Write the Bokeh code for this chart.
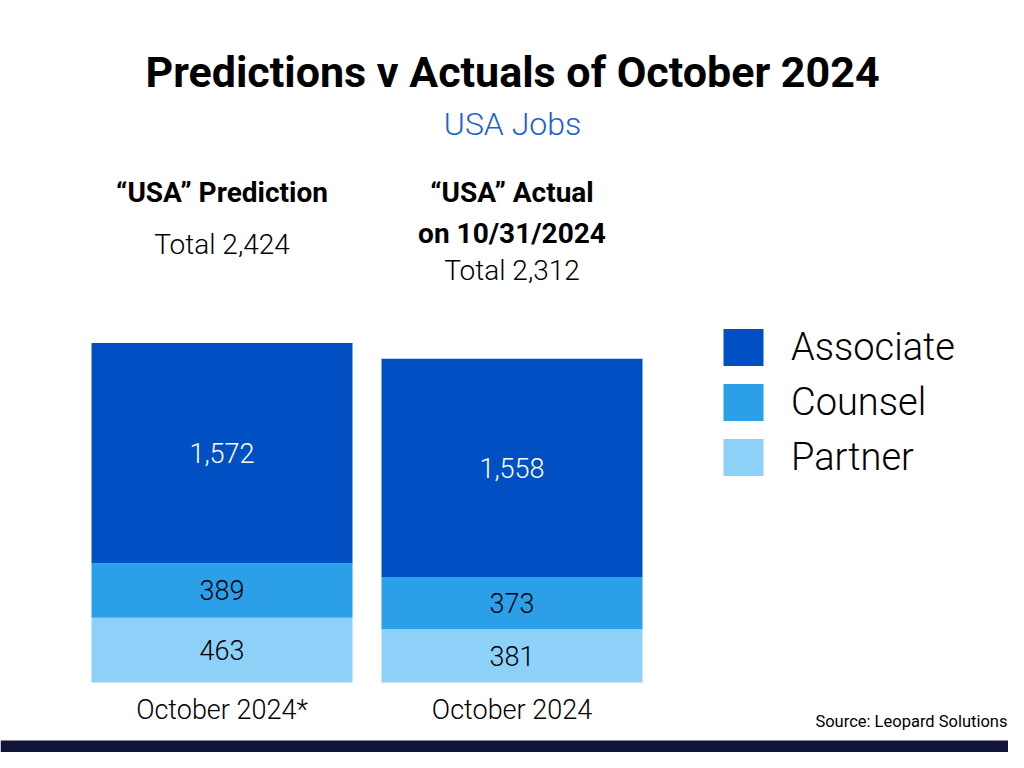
from bokeh.plotting import figure
from bokeh.models import Range1d, ColumnDataSource, Label, Legend, LegendItem, BoxAnnotation
from bokeh.core.properties import value
from bokeh.embed import file_html
from bokeh.resources import INLINE

# ---------------- data ----------------
categories = ["October 2024*", "October 2024"]
associate = [1572, 1558]
counsel = [389, 373]
partner = [463, 381]
series_names = ["Partner", "Counsel", "Associate"]          # bottom -> top
legend_order = ["Associate", "Counsel", "Partner"]
headings = [["\u201cUSA\u201d Prediction"], ["\u201cUSA\u201d Actual", "on 10/31/2024"]]
title_text = "Predictions v Actuals of October 2024"
subtitle_text = "USA Jobs"
source_text = "Source: Leopard Solutions"

colors = {"Associate": "#0050C3", "Counsel": "#2C9FE9", "Partner": "#8DD1F9"}
FONT = "Roboto"
LIGHT = "Roboto Light"

W, H = 1008, 752
p = figure(width=W, height=H, output_backend="svg", toolbar_location=None,
           x_range=Range1d(-0.7638, 2.7121), y_range=Range1d(-500, 4871),
           x_axis_location=None, y_axis_location=None,
           min_border=0, outline_line_color=None)
p.grid.visible = False
p.background_fill_color = "white"
p.border_fill_color = "white"

xs = list(range(len(categories)))
series_values = {"Partner": partner, "Counsel": counsel, "Associate": associate}
src = ColumnDataSource(dict(x=xs, **series_values))
rs = p.vbar_stack(series_names, x="x", width=0.9, source=src,
                  fill_color=[colors[n] for n in series_names], line_color=None)

# segment value labels
lx, ly, lt, lc = [], [], [], []
for i in xs:
    base = 0
    for name in series_names:
        v = series_values[name][i]
        lx.append(i)
        ly.append(base + v / 2)
        lt.append(f"{v:,}")
        lc.append("white" if name == "Associate" else "black")
        base += v
p.text(x=lx, y=ly, text=lt, text_color=lc, text_align="center", text_baseline="middle",
       text_font=value(LIGHT), text_font_size="27px")

# category labels under bars
p.text(x=xs, y=[0] * len(xs), text=categories, y_offset=28, text_align="center",
       text_baseline="middle", text_font=value(LIGHT), text_font_size="27px", text_color="black")

# headings + totals above bars
heading_y = [[560], [560, 519]]
total_y = [508, 482]
for i in xs:
    for line, y in zip(headings[i], heading_y[i]):
        p.add_layout(Label(x=i, y=y, x_units="data", y_units="screen", text=line,
                           text_align="center", text_baseline="middle", text_font=FONT,
                           text_font_size="28px", text_font_style="bold", text_color="black"))
    total = sum(series_values[n][i] for n in series_names)
    p.add_layout(Label(x=i, y=total_y[i], x_units="data", y_units="screen", text=f"Total {total:,}",
                       text_align="center", text_baseline="middle", text_font=LIGHT,
                       text_font_size="28px", text_color="black"))

# title / subtitle / source
p.add_layout(Label(x=512, y=681, x_units="screen", y_units="screen", text=title_text,
                   text_align="center", text_baseline="middle", text_font=FONT,
                   text_font_size="43px", text_font_style="bold", text_color="black"))
p.add_layout(Label(x=512, y=629, x_units="screen", y_units="screen", text=subtitle_text,
                   text_align="center", text_baseline="middle", text_font=LIGHT,
                   text_font_size="32px", text_color="#1A5FD0"))
p.add_layout(Label(x=1007, y=31, x_units="screen", y_units="screen", text=source_text,
                   text_align="right", text_baseline="middle", text_font=FONT,
                   text_font_size="16.5px", text_color="black"))

# bottom band
p.add_layout(BoxAnnotation(bottom=0, top=12, bottom_units="screen", top_units="screen",
                           fill_color="#12153A", fill_alpha=1, line_color=None))

legend = Legend(items=[LegendItem(label=n, renderers=[rs[series_names.index(n)]]) for n in legend_order],
                location=(718, 272), orientation="vertical", glyph_width=50, glyph_height=46,
                label_text_font=LIGHT, label_text_font_size="38px", label_standoff=23,
                spacing=9, padding=0, margin=0, border_line_color=None,
                background_fill_alpha=0, label_text_color="black")
p.add_layout(legend)

open("out.html", "w").write(file_html(p, INLINE))
